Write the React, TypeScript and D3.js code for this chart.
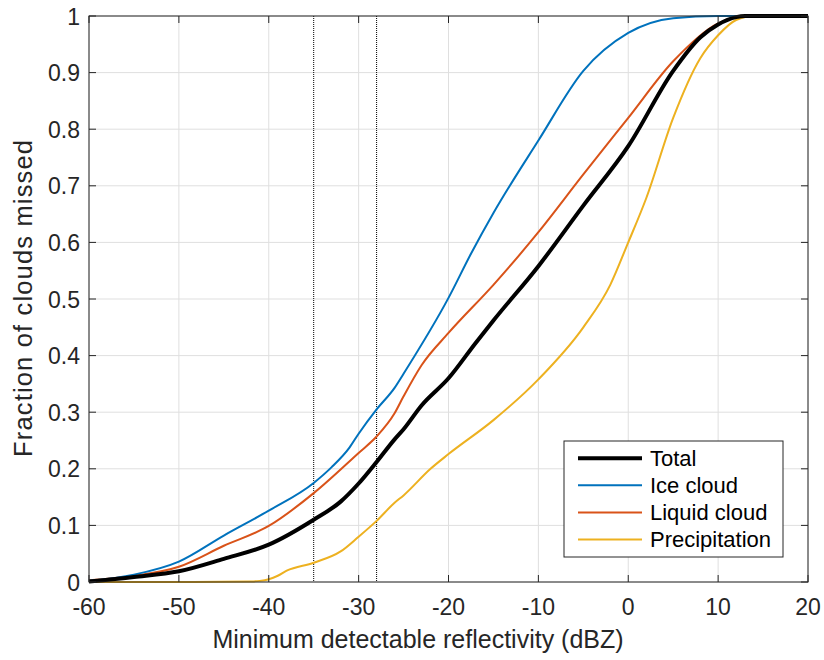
import React from "react";
import * as d3 from "d3";

const xTicks = [-60, -50, -40, -30, -20, -10, 0, 10, 20];
const yTicks = [0, 0.1, 0.2, 0.3, 0.4, 0.5, 0.6, 0.7, 0.8, 0.9, 1];
const refLines = [-35, -28];

const totalX = [-60, -55, -50, -45, -40, -35, -32, -30, -28, -26, -25, -23, -20, -17, -15, -10, -5, 0, 5, 8, 10, 12, 13, 20];
const totalY = [0.001, 0.009, 0.019, 0.041, 0.066, 0.11, 0.142, 0.174, 0.212, 0.252, 0.27, 0.312, 0.36, 0.422, 0.462, 0.558, 0.665, 0.77, 0.903, 0.962, 0.985, 0.998, 1, 1];

const iceX = [-60, -55, -50, -45, -40, -35, -33, -31, -30, -28, -26, -25, -20, -17.5, -15, -10, -5, 0, 5, 10, 20];
const iceY = [0.002, 0.013, 0.036, 0.082, 0.126, 0.175, 0.203, 0.238, 0.262, 0.305, 0.343, 0.368, 0.502, 0.58, 0.652, 0.78, 0.903, 0.97, 0.996, 1, 1];

const liqX = [-60, -55, -50, -45, -40, -35, -30, -28, -26, -25, -23, -20, -15, -10, -5, 0, 5, 10, 12, 13, 20];
const liqY = [0.003, 0.011, 0.027, 0.064, 0.099, 0.157, 0.228, 0.257, 0.298, 0.328, 0.383, 0.44, 0.525, 0.618, 0.72, 0.82, 0.92, 0.987, 0.998, 1, 1];

const preX = [-60, -50, -42, -41, -40, -39, -38, -35, -32, -30, -28, -26, -25, -22, -20, -15, -10, -5, -2, 0, 2, 5, 8, 10, 12, 14, 20];
const preY = [0, 0.0, 0.001, 0.002, 0.005, 0.011, 0.02, 0.034, 0.054, 0.08, 0.108, 0.14, 0.153, 0.2, 0.226, 0.286, 0.358, 0.45, 0.525, 0.6, 0.678, 0.82, 0.925, 0.966, 0.993, 1, 1];

const seriesNames = ["Total", "Ice cloud", "Liquid cloud", "Precipitation"];
const seriesColors = ["#000000", "#0072BD", "#D95319", "#EDB120"];
const seriesWidths = [4, 2, 2, 2];
const seriesX = [totalX, iceX, liqX, preX];
const seriesY = [totalY, iceY, liqY, preY];

const xLabel = "Minimum detectable reflectivity (dBZ)";
const yLabel = "Fraction of clouds missed";

export default function App() {
  const W = 824, H = 660;
  const L = 89, R = 808, T = 16, B = 582;
  const x = d3.scaleLinear().domain([-60, 20]).range([L, R]);
  const y = d3.scaleLinear().domain([0, 1]).range([B, T]);
  const font = "'Liberation Sans', Arial, Helvetica, sans-serif";
  const axisColor = "#262626";
  const tickLen = 7;

  const line = d3
    .line<[number, number]>()
    .x((d) => x(d[0]))
    .y((d) => y(d[1]))
    .curve(d3.curveMonotoneX);

  const order = [3, 2, 1, 0];

  const legX = 564, legY = 441, legW = 219, legH = 116;
  const rowH = 27.1;

  return (
    <svg
      width={W}
      height={H}
      style={{ position: "absolute", left: 0, top: 0, background: "#fff" }}
      fontFamily={font}
    >
      <rect x={0} y={0} width={W} height={H} fill="#fff" />
      {xTicks.map((t) => (
        <line key={"gx" + t} x1={x(t)} x2={x(t)} y1={T} y2={B} stroke="#dfdfdf" strokeWidth={1} />
      ))}
      {yTicks.map((t) => (
        <line key={"gy" + t} x1={L} x2={R} y1={y(t)} y2={y(t)} stroke="#dfdfdf" strokeWidth={1} />
      ))}
      {refLines.map((r) => (
        <line
          key={"r" + r}
          x1={x(r)}
          x2={x(r)}
          y1={T}
          y2={B}
          stroke="#000"
          strokeWidth={1}
          strokeDasharray="1,1"
        />
      ))}
      {order.map((i) => (
        <path
          key={"s" + i}
          d={line(seriesX[i].map((v, j) => [v, seriesY[i][j]] as [number, number])) || ""}
          fill="none"
          stroke={seriesColors[i]}
          strokeWidth={seriesWidths[i]}
          strokeLinejoin="round"
        />
      ))}
      <rect x={L} y={T} width={R - L} height={B - T} fill="none" stroke={axisColor} strokeWidth={1} />
      {xTicks.map((t) => (
        <g key={"xt" + t}>
          <line x1={x(t)} x2={x(t)} y1={B} y2={B - tickLen} stroke={axisColor} />
          <line x1={x(t)} x2={x(t)} y1={T} y2={T + tickLen} stroke={axisColor} />
          <text x={x(t)} y={615} textAnchor="middle" fontSize={23} fill={axisColor}>
            {t}
          </text>
        </g>
      ))}
      {yTicks.map((t) => (
        <g key={"yt" + t}>
          <line x1={L} x2={L + tickLen} y1={y(t)} y2={y(t)} stroke={axisColor} />
          <line x1={R} x2={R - tickLen} y1={y(t)} y2={y(t)} stroke={axisColor} />
          <text x={80} y={y(t) + 8.5} textAnchor="end" fontSize={23} fill={axisColor}>
            {String(t)}
          </text>
        </g>
      ))}
      <text x={418} y={648} textAnchor="middle" fontSize={25} fill={axisColor}>
        {xLabel}
      </text>
      <text
        transform={`translate(32,${(140 + 457) / 2}) rotate(-90)`}
        textAnchor="middle"
        fontSize={25.5}
        textLength={317}
        lengthAdjust="spacing"
        fill={axisColor}
      >
        {yLabel}
      </text>
      <rect x={legX} y={legY} width={legW} height={legH} fill="#fff" stroke={axisColor} strokeWidth={1} />
      {seriesNames.map((n, i) => {
        const base = legY + 24.7 + i * rowH;
        return (
          <g key={"l" + i}>
            <line x1={578} x2={642} y1={base - 7.5} y2={base - 7.5} stroke={seriesColors[i]} strokeWidth={seriesWidths[i]} />
            <text x={650} y={base} fontSize={22} fill="#000">
              {n}
            </text>
          </g>
        );
      })}
    </svg>
  );
}
